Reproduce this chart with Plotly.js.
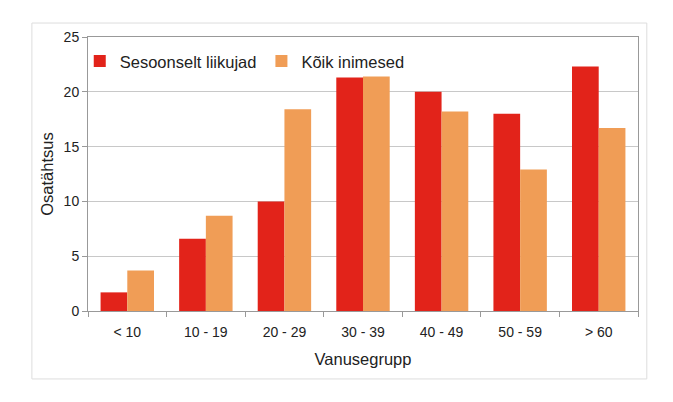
<!DOCTYPE html>
<html>
<head>
<meta charset="utf-8">
<script src="https://cdn.plot.ly/plotly-3.0.1.min.js"></script>
<style>
  body { margin: 0; background: #fff; }
  #graphDiv { width: 673px; height: 402px; }
</style>
</head>
<body>
<div id="graphDiv"></div>
<script>
var groups = ['< 10', '10 - 19', '20 - 29', '30 - 39', '40 - 49', '50 - 59', '> 60'];
var seasonal = [1.7, 6.6, 10.0, 21.3, 20.0, 18.0, 22.3];
var everyone = [3.7, 8.7, 18.4, 21.4, 18.2, 12.9, 16.7];

var trace1 = {
  x: groups,
  y: seasonal,
  name: 'Sesoonselt liikujad',
  type: 'bar',
  marker: {color: '#E2231A'}
};

var trace2 = {
  x: groups,
  y: everyone,
  name: 'Kõik inimesed',
  type: 'bar',
  marker: {color: '#F09D56'}
};

var layout = {
  width: 673,
  height: 402,
  margin: {l: 88, r: 35, t: 37, b: 91},
  paper_bgcolor: '#fff',
  plot_bgcolor: '#fff',
  font: {family: 'Liberation Sans, Arial, sans-serif', color: '#222', size: 14},
  barmode: 'group',
  bargap: 0.32,
  bargroupgap: 0,
  showlegend: true,
  legend: {
    orientation: 'h',
    x: -0.015, y: 0.975,
    xanchor: 'left', yanchor: 'top',
    font: {size: 16.5},
    bgcolor: 'rgba(0,0,0,0)',
    itemwidth: 30
  },
  xaxis: {
    type: 'category',
    showline: true,
    linecolor: '#999',
    linewidth: 1,
    mirror: true,
    ticks: 'outside',
    tickson: 'boundaries',
    ticklen: 5,
    tickcolor: '#999',
    ticklabelstandoff: 8,
    tickfont: {size: 14},
    title: {text: 'Vanusegrupp', font: {size: 16.5}, standoff: 14}
  },
  yaxis: {
    range: [0, 25],
    dtick: 5,
    showline: true,
    linecolor: '#999',
    mirror: true,
    ticks: 'outside',
    ticklen: 5,
    tickcolor: '#999',
    gridcolor: '#c8c8c8',
    zeroline: false,
    tickfont: {size: 14},
    title: {text: 'Osatähtsus', font: {size: 16.5}, standoff: 5}
  },
  shapes: [{
    type: 'rect', xref: 'paper', yref: 'paper',
    x0: -0.102, x1: 1.016, y0: -0.248, y1: 1.051,
    line: {color: '#dddddd', width: 1}
  }]
};

Plotly.newPlot('graphDiv', [trace1, trace2], layout, {displayModeBar: false});
</script>
</body>
</html>
